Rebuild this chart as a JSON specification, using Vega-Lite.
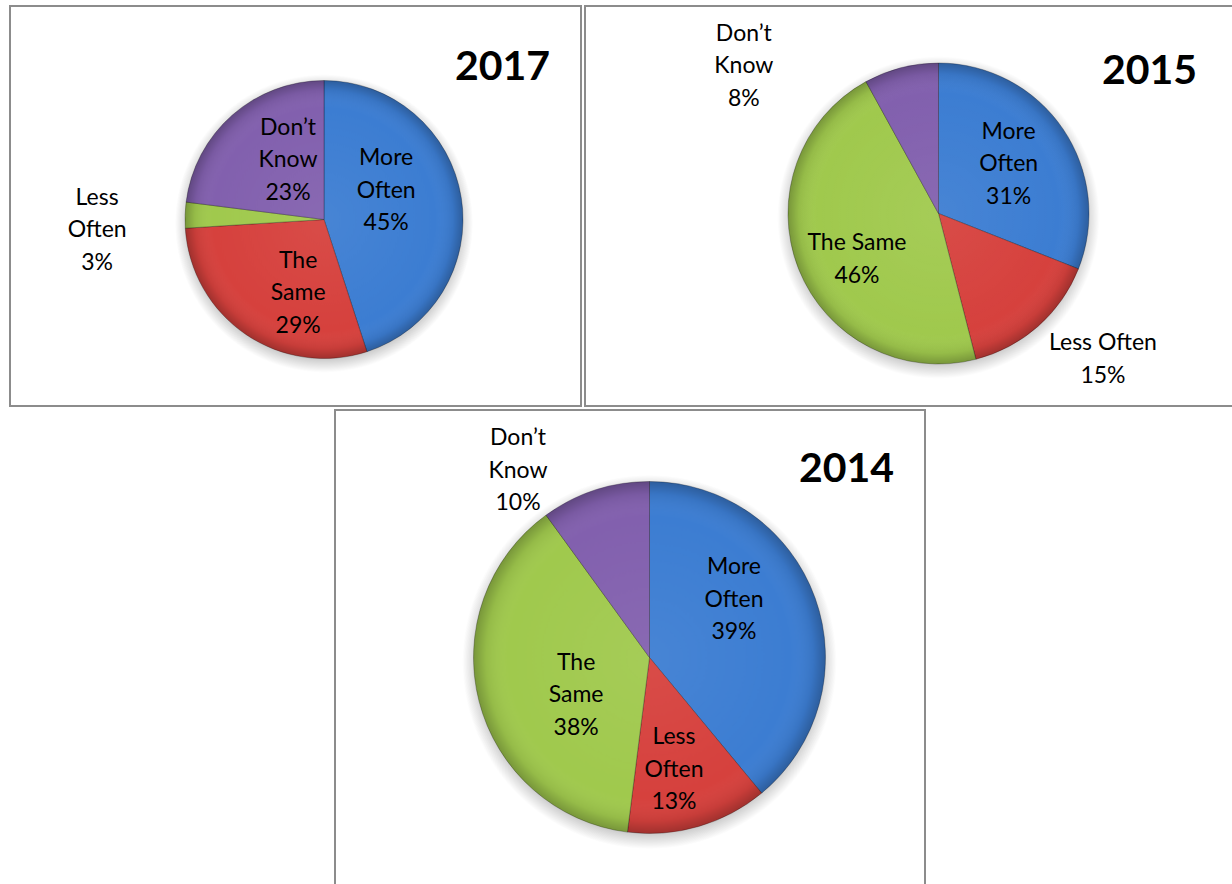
{
  "$schema": "https://vega.github.io/schema/vega-lite/v6.json",
  "padding": {"left": 9, "top": 5, "right": -2, "bottom": -2},
  "background": "white",
  "config": {
    "font": "Lato"
  },
  "data": {
    "values": [
      {"year": 2017, "seq": 1, "answer": "More Often", "name": "More\nOften", "pct": 45},
      {"year": 2017, "seq": 2, "answer": "The Same", "name": "The\nSame", "pct": 29},
      {"year": 2017, "seq": 3, "answer": "Less Often", "name": "Less\nOften", "pct": 3},
      {"year": 2017, "seq": 4, "answer": "Don’t Know", "name": "Don’t\nKnow", "pct": 23},
      {"year": 2015, "seq": 1, "answer": "More Often", "name": "More\nOften", "pct": 31},
      {"year": 2015, "seq": 2, "answer": "Less Often", "name": "Less Often", "pct": 15},
      {"year": 2015, "seq": 3, "answer": "The Same", "name": "The Same", "pct": 46},
      {"year": 2015, "seq": 4, "answer": "Don’t Know", "name": "Don’t\nKnow", "pct": 8},
      {"year": 2014, "seq": 1, "answer": "More Often", "name": "More\nOften", "pct": 39},
      {"year": 2014, "seq": 2, "answer": "Less Often", "name": "Less\nOften", "pct": 13},
      {"year": 2014, "seq": 3, "answer": "The Same", "name": "The\nSame", "pct": 38},
      {"year": 2014, "seq": 4, "answer": "Don’t Know", "name": "Don’t\nKnow", "pct": 10}
    ]
  },
  "transform": [{"calculate": "datum.name + '\\n' + datum.pct + '%'", "as": "label"}],
  "spacing": 2,
  "vconcat": [
    {
      "spacing": 2,
      "hconcat": [
        {
          "width": 571,
          "height": 400,
          "view": {"stroke": "#8c8c8c", "strokeWidth": 2, "fill": null},
          "title": {"text": "2017", "orient": "top", "anchor": "end", "frame": "group", "offset": -115, "baseline": "alphabetic", "dx": -31, "fontSize": 41, "fontWeight": "bold", "font": "Lato", "color": "#000000"},
          "transform": [{"filter": "datum.year === 2017"}],
          "layer": [
            {
              "transform": [{"aggregate": [{"op": "sum", "field": "pct", "as": "total"}]}],
              "mark": {"type": "arc", "x": 314, "y": 217.5, "outerRadius": 149, "stroke": null,
                "fill": {"gradient": "radial", "x1": 0.5, "y1": 0.5, "r1": 0, "x2": 0.5, "y2": 0.5, "r2": 0.5,
                  "stops": [{"offset": 0, "color": "rgba(0,0,0,0.22)"}, {"offset": 0.9, "color": "rgba(0,0,0,0.22)"}, {"offset": 1, "color": "rgba(0,0,0,0)"}]}},
              "encoding": {"theta": {"field": "total", "type": "quantitative"}}
            },
            {
              "mark": {"type": "arc", "x": 314, "y": 213.5, "outerRadius": 139, "stroke": "rgba(0,0,0,0.35)", "strokeWidth": 0.8},
              "encoding": {
                "theta": {"field": "pct", "type": "quantitative", "stack": true},
                "order": {"field": "seq", "type": "quantitative"},
                "color": {"field": "seq", "type": "nominal", "legend": null,
                  "scale": {"domain": [1, 2, 3, 4], "range": ["#3c7dd2", "#d6413d", "#a0c94d", "#8260ae"]}}
              }
            },
            {
              "transform": [{"aggregate": [{"op": "sum", "field": "pct", "as": "total"}]}],
              "mark": {"type": "arc", "x": 314, "y": 213.5, "outerRadius": 139, "stroke": null,
                "fill": {"gradient": "radial", "x1": 0.5, "y1": 0.5, "r1": 0, "x2": 0.5, "y2": 0.5, "r2": 0.5,
                  "stops": [{"offset": 0, "color": "rgba(255,255,255,0.06)"}, {"offset": 0.8, "color": "rgba(255,255,255,0)"}, {"offset": 0.93, "color": "rgba(0,0,0,0.07)"}, {"offset": 1, "color": "rgba(0,0,0,0.25)"}]}},
              "encoding": {"theta": {"field": "total", "type": "quantitative"}}
            },
            {
              "mark": {"type": "text", "x": 314, "y": 213.5, "fontSize": 23, "lineHeight": 32.5, "lineBreak": "\n", "font": "Lato", "fill": "#000000",
                "radius": {"expr": "[69, 78, 227, 69.5][datum.seq - 1]"},
                "dx": {"expr": "[-6, 18, 0, 10][datum.seq - 1]"},
                "dy": {"expr": "[-50.5, -23.5, -14.5, -39.5][datum.seq - 1]"}},
              "encoding": {
                "theta": {"field": "pct", "type": "quantitative", "stack": true},
                "order": {"field": "seq", "type": "quantitative"},
                "text": {"field": "label", "type": "nominal"}
              }
            }
          ]
        },
        {
          "width": 648,
          "height": 400,
          "view": {"stroke": "#8c8c8c", "strokeWidth": 2, "fill": null},
          "title": {"text": "2015", "orient": "top", "anchor": "end", "frame": "group", "offset": -119, "baseline": "alphabetic", "dx": -36, "fontSize": 41, "fontWeight": "bold", "font": "Lato", "color": "#000000"},
          "transform": [{"filter": "datum.year === 2015"}],
          "layer": [
            {
              "transform": [{"aggregate": [{"op": "sum", "field": "pct", "as": "total"}]}],
              "mark": {"type": "arc", "x": 353.5, "y": 211.5, "outerRadius": 161, "stroke": null,
                "fill": {"gradient": "radial", "x1": 0.5, "y1": 0.5, "r1": 0, "x2": 0.5, "y2": 0.5, "r2": 0.5,
                  "stops": [{"offset": 0, "color": "rgba(0,0,0,0.22)"}, {"offset": 0.9, "color": "rgba(0,0,0,0.22)"}, {"offset": 1, "color": "rgba(0,0,0,0)"}]}},
              "encoding": {"theta": {"field": "total", "type": "quantitative"}}
            },
            {
              "mark": {"type": "arc", "x": 353.5, "y": 207.5, "outerRadius": 150.5, "stroke": "rgba(0,0,0,0.35)", "strokeWidth": 0.8},
              "encoding": {
                "theta": {"field": "pct", "type": "quantitative", "stack": true},
                "order": {"field": "seq", "type": "quantitative"},
                "color": {"field": "seq", "type": "nominal", "legend": null,
                  "scale": {"domain": [1, 2, 3, 4], "range": ["#3c7dd2", "#d6413d", "#a0c94d", "#8260ae"]}}
              }
            },
            {
              "transform": [{"aggregate": [{"op": "sum", "field": "pct", "as": "total"}]}],
              "mark": {"type": "arc", "x": 353.5, "y": 207.5, "outerRadius": 150.5, "stroke": null,
                "fill": {"gradient": "radial", "x1": 0.5, "y1": 0.5, "r1": 0, "x2": 0.5, "y2": 0.5, "r2": 0.5,
                  "stops": [{"offset": 0, "color": "rgba(255,255,255,0.06)"}, {"offset": 0.8, "color": "rgba(255,255,255,0)"}, {"offset": 0.93, "color": "rgba(0,0,0,0.07)"}, {"offset": 1, "color": "rgba(0,0,0,0.25)"}]}},
              "encoding": {"theta": {"field": "total", "type": "quantitative"}}
            },
            {
              "mark": {"type": "text", "x": 353.5, "y": 207.5, "fontSize": 23, "lineHeight": 32.5, "lineBreak": "\n", "font": "Lato", "fill": "#000000",
                "radius": {"expr": "[86, 220, 93.6, 244][datum.seq - 1]"},
                "dx": {"expr": "[-1, 19, 5.5, -134][datum.seq - 1]"},
                "dy": {"expr": "[-33.5, -35.25, -4.75, 56.5][datum.seq - 1]"}},
              "encoding": {
                "theta": {"field": "pct", "type": "quantitative", "stack": true},
                "order": {"field": "seq", "type": "quantitative"},
                "text": {"field": "label", "type": "nominal"}
              }
            }
          ]
        }
      ]
    },
    {
      "spacing": 0,
      "hconcat": [
        {
          "width": 324,
          "height": 10,
          "data": {"values": [{"blank": ""}]},
          "mark": {"type": "text"},
          "encoding": {"text": {"field": "blank", "type": "nominal"}},
          "view": {"stroke": null}
        },
        {
          "width": 590,
          "height": 475,
          "view": {"stroke": "#8c8c8c", "strokeWidth": 2, "fill": null},
          "title": {"text": "2014", "orient": "top", "anchor": "end", "frame": "group", "offset": -113, "baseline": "alphabetic", "dx": -31, "fontSize": 41, "fontWeight": "bold", "font": "Lato", "color": "#000000"},
          "transform": [{"filter": "datum.year === 2014"}],
          "layer": [
            {
              "transform": [{"aggregate": [{"op": "sum", "field": "pct", "as": "total"}]}],
              "mark": {"type": "arc", "x": 314.5, "y": 252, "outerRadius": 187, "stroke": null,
                "fill": {"gradient": "radial", "x1": 0.5, "y1": 0.5, "r1": 0, "x2": 0.5, "y2": 0.5, "r2": 0.5,
                  "stops": [{"offset": 0, "color": "rgba(0,0,0,0.22)"}, {"offset": 0.91, "color": "rgba(0,0,0,0.22)"}, {"offset": 1, "color": "rgba(0,0,0,0)"}]}},
              "encoding": {"theta": {"field": "total", "type": "quantitative"}}
            },
            {
              "mark": {"type": "arc", "x": 314.5, "y": 247.5, "outerRadius": 176, "stroke": "rgba(0,0,0,0.35)", "strokeWidth": 0.8},
              "encoding": {
                "theta": {"field": "pct", "type": "quantitative", "stack": true},
                "order": {"field": "seq", "type": "quantitative"},
                "color": {"field": "seq", "type": "nominal", "legend": null,
                  "scale": {"domain": [1, 2, 3, 4], "range": ["#3c7dd2", "#d6413d", "#a0c94d", "#8260ae"]}}
              }
            },
            {
              "transform": [{"aggregate": [{"op": "sum", "field": "pct", "as": "total"}]}],
              "mark": {"type": "arc", "x": 314.5, "y": 247.5, "outerRadius": 176, "stroke": null,
                "fill": {"gradient": "radial", "x1": 0.5, "y1": 0.5, "r1": 0, "x2": 0.5, "y2": 0.5, "r2": 0.5,
                  "stops": [{"offset": 0, "color": "rgba(255,255,255,0.06)"}, {"offset": 0.8, "color": "rgba(255,255,255,0)"}, {"offset": 0.93, "color": "rgba(0,0,0,0.07)"}, {"offset": 1, "color": "rgba(0,0,0,0.25)"}]}},
              "encoding": {"theta": {"field": "total", "type": "quantitative"}}
            },
            {
              "mark": {"type": "text", "x": 314.5, "y": 247.5, "fontSize": 23, "lineHeight": 32.5, "lineBreak": "\n", "font": "Lato", "fill": "#000000",
                "radius": {"expr": "[102, 115, 83, 228][datum.seq - 1]"},
                "dx": {"expr": "[-11.5, -7.6, 7, -61][datum.seq - 1]"},
                "dy": {"expr": "[-55.5, -30.9, -15.5, -2.5][datum.seq - 1]"}},
              "encoding": {
                "theta": {"field": "pct", "type": "quantitative", "stack": true},
                "order": {"field": "seq", "type": "quantitative"},
                "text": {"field": "label", "type": "nominal"}
              }
            }
          ]
        }
      ]
    }
  ]
}
